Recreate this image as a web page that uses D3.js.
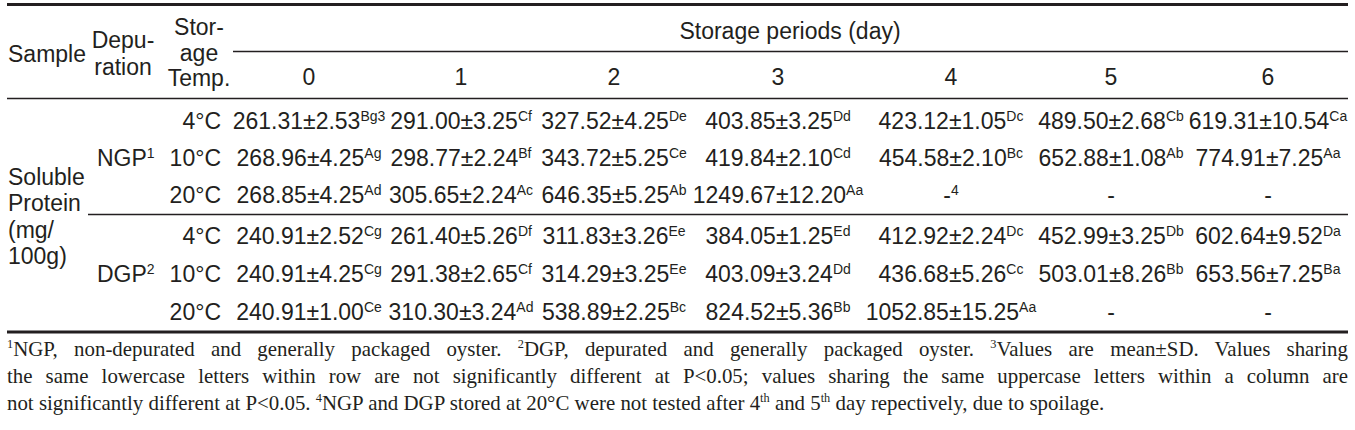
<!DOCTYPE html>
<html><head><meta charset="utf-8">
<script src="https://cdn.jsdelivr.net/npm/d3@7"></script>
<style>html,body{margin:0;padding:0;background:#fff}svg{display:block}</style>
</head><body>
<svg id="c" width="1355" height="430"></svg>
<script>
// ---- data ----
const days = ["0", "1", "2", "3", "4", "5", "6"];
const temps = ["4°C", "10°C", "20°C"];
const groups = ["NGP", "DGP"];
const groupNotes = ["1", "2"];
const sampleLabel = ["Soluble", "Protein", "(mg/", "100g)"];

const ngpMean = [
  ["261.31", "291.00", "327.52", "403.85", "423.12", "489.50", "619.31"],
  ["268.96", "298.77", "343.72", "419.84", "454.58", "652.88", "774.91"],
  ["268.85", "305.65", "646.35", "1249.67", null, null, null]
];
const ngpSD = [
  ["2.53", "3.25", "4.25", "3.25", "1.05", "2.68", "10.54"],
  ["4.25", "2.24", "5.25", "2.10", "2.10", "1.08", "7.25"],
  ["4.25", "2.24", "5.25", "12.20", null, null, null]
];
const ngpLetters = [
  ["Bg", "Cf", "De", "Dd", "Dc", "Cb", "Ca"],
  ["Ag", "Bf", "Ce", "Cd", "Bc", "Ab", "Aa"],
  ["Ad", "Ac", "Ab", "Aa", null, null, null]
];
const dgpMean = [
  ["240.91", "261.40", "311.83", "384.05", "412.92", "452.99", "602.64"],
  ["240.91", "291.38", "314.29", "403.09", "436.68", "503.01", "653.56"],
  ["240.91", "310.30", "538.89", "824.52", "1052.85", null, null]
];
const dgpSD = [
  ["2.52", "5.26", "3.26", "1.25", "2.24", "3.25", "9.52"],
  ["4.25", "2.65", "3.25", "3.24", "5.26", "8.26", "7.25"],
  ["1.00", "3.24", "2.25", "5.36", "15.25", null, null]
];
const dgpLetters = [
  ["Cg", "Df", "Ee", "Ed", "Dc", "Db", "Da"],
  ["Cg", "Cf", "Ee", "Dd", "Cc", "Bb", "Ba"],
  ["Ce", "Ad", "Bc", "Bb", "Aa", null, null]
];
// footnote markers inside cells: [group, tempIndex, dayIndex, marker]
const cellNotes = [["NGP", 0, 0, "3"], ["NGP", 2, 4, "4"]];

const footnotes = [
  [["1", true], ["NGP, non-depurated and generally packaged oyster. ", false], ["2", true],
   ["DGP, depurated and generally packaged oyster. ", false], ["3", true],
   ["Values are mean±SD. Values sharing", false]],
  [["the same lowercase letters within row are not significantly different at P<0.05; values sharing the same uppercase letters within a column are", false]],
  [["not significantly different at P<0.05. ", false], ["4", true],
   ["NGP and DGP stored at 20°C were not tested after 4", false], ["th", true],
   [" and 5", false], ["th", true], [" day repectively, due to spoilage.", false]]
];
const justify = [true, true, false];

// ---- layout ----
const ink = "#231f20";
const sans = "'Liberation Sans', Arial, Helvetica, sans-serif";
const serif = "'Liberation Serif', 'Times New Roman', serif";
const FS = 23, SUP = 14, SUPDY = -8;
const L = 7, R = 1348;
const LAST_LINE_W = 1098; // width of the last (unjustified) footnote line

const svg = d3.select("#c");
const x = d3.scaleOrdinal().domain(days).range([309, 461, 614, 778, 951, 1111, 1268]);
const rowKeys = groups.flatMap(g => temps.map(t => g + t));
const y = d3.scaleOrdinal().domain(rowKeys).range([129, 166, 203, 244, 282, 320]);

// rules
const rules = [
  {y: 4.5, x1: L, x2: R, w: 3},
  {y: 51.5, x1: 233, x2: R, w: 1.3},
  {y: 98.5, x1: L, x2: R, w: 1.3},
  {y: 214.5, x1: 88, x2: R, w: 1.3},
  {y: 332, x1: L, x2: R, w: 3}
];
svg.selectAll("line.rule").data(rules).join("line").attr("class", "rule")
  .attr("x1", d => d.x1).attr("x2", d => d.x2).attr("y1", d => d.y).attr("y2", d => d.y)
  .attr("stroke", ink).attr("stroke-width", d => d.w);

function txt(t, xx, yy, anchor, size, fam) {
  return svg.append("text").attr("x", xx).attr("y", yy).attr("text-anchor", anchor || "start")
    .attr("font-family", fam || sans).attr("font-size", size || FS).attr("fill", ink).text(t);
}

// header
txt("Sample", 8, 62);
txt("Depu-", 123, 48, "middle");
txt("ration", 123, 75, "middle");
txt("Stor-", 199, 35, "middle");
txt("age", 199, 61, "middle");
txt("Temp.", 199, 86, "middle");
txt("Storage periods (day)", 790, 39, "middle");
svg.selectAll("text.day").data(days).join("text").attr("class", "day")
  .attr("x", d => x(d)).attr("y", 85).attr("text-anchor", "middle")
  .attr("font-family", sans).attr("font-size", FS).attr("fill", ink).text(d => d);

// left labels
sampleLabel.forEach((s, i) => txt(s, 8, 185 + i * 26.3));
groups.forEach((g, gi) => {
  const t = txt(g, 97, y(g + temps[1]));
  t.append("tspan").attr("font-size", SUP).attr("dy", SUPDY).text(groupNotes[gi]);
});
groups.forEach(g => temps.forEach(t => txt(t, 221, y(g + t), "end")));

// cells
const cells = [];
groups.forEach((g, gi) => {
  const M = gi ? dgpMean : ngpMean, S = gi ? dgpSD : ngpSD, Lt = gi ? dgpLetters : ngpLetters;
  temps.forEach((t, ti) => days.forEach((d, di) => {
    const note = cellNotes.find(n => n[0] === g && n[1] === ti && n[2] === di);
    cells.push({row: g + t, day: d, mean: M[ti][di], sd: S[ti][di], let: Lt[ti][di], note: note ? note[3] : ""});
  }));
});
const ct = svg.selectAll("text.cell").data(cells).join("text").attr("class", "cell")
  .attr("x", d => x(d.day)).attr("y", d => y(d.row)).attr("text-anchor", "middle")
  .attr("font-family", sans).attr("font-size", FS).attr("fill", ink);
ct.append("tspan").text(d => d.mean ? d.mean + "±" + d.sd : "-");
ct.append("tspan").attr("font-size", SUP).attr("dy", SUPDY).text(d => (d.let || "") + d.note);

// footnotes (slightly condensed Times, justified)
const fy = [356, 383, 410];
const fg = svg.append("g");
const ftexts = footnotes.map((segs, i) => {
  const t = fg.append("text").attr("x", 0).attr("y", fy[i]).attr("font-family", serif)
    .attr("font-size", 22).attr("fill", ink);
  let up = false;
  segs.forEach(([s, sup]) => {
    const sp = t.append("tspan").text(s).attr("xml:space", "preserve");
    if (sup && !up) { sp.attr("font-size", 13).attr("dy", -8); up = true; }
    else if (!sup && up) { sp.attr("dy", 8); up = false; }
    else if (sup) sp.attr("font-size", 13);
  });
  return t;
});
const sx = LAST_LINE_W / ftexts[2].node().getComputedTextLength();
fg.attr("transform", `translate(${L},0) scale(${sx},1)`);
footnotes.forEach((segs, i) => {
  if (!justify[i]) return;
  const w = ftexts[i].node().getComputedTextLength();
  const n = segs.map(s => s[0]).join("").split(" ").length - 1;
  ftexts[i].style("word-spacing", (((R - L) / sx - w) / n) + "px");
});
</script>
</body></html>
